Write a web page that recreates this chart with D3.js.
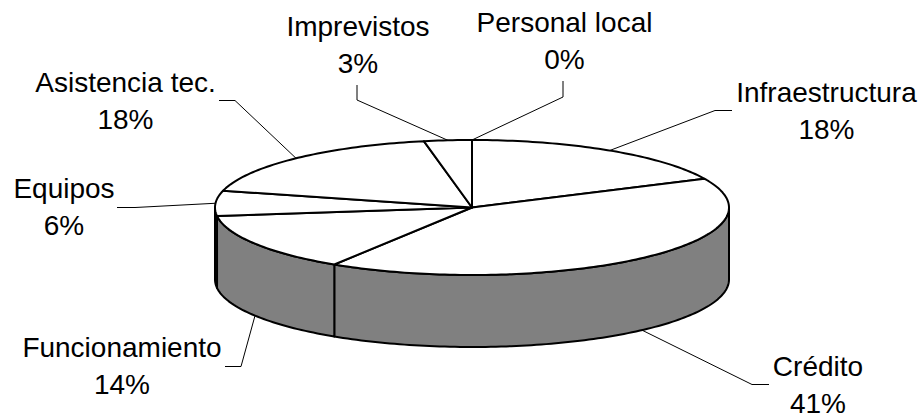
<!DOCTYPE html>
<html><head><meta charset="utf-8">
<script src="https://cdn.jsdelivr.net/npm/d3@7"></script>
<style>html,body{margin:0;padding:0;background:#fff}svg{display:block}</style>
</head><body><svg id="c" width="922" height="415"></svg>
<script>
const categories = ["Personal local","Infraestructura","Crédito","Funcionamiento","Equipos","Asistencia tec.","Imprevistos"];
const values = [0,18,41,14,6,18,3];
const percentLabels = ["0%","18%","41%","14%","6%","18%","3%"];

const layout = {cx:472,cy:207.5,rx:257,ry:67.5,depth:72,font:28,lh:36.5};
// label centre x, first-line baseline y, leader elbow points (same order as categories)
const labelPos = [
 {x:564.5,y:32,leader:[[563,97],[563,81]]},
 {x:826.5,y:102,leader:[[715,110.5],[732,110.5]]},
 {x:818,y:376,leader:[[752,384.5],[769,384.5]]},
 {x:122,y:357,leader:[[241,366.5],[225,366.5]]},
 {x:64,y:198,leader:[[135,207.5],[117,207.5]]},
 {x:125.5,y:92,leader:[[235,100.5],[219,100.5]]},
 {x:358,y:36,leader:[[357,100],[357,85]]}
];

const svg = d3.select("#c");
const arcs = d3.pie().sort(null).value(d=>d)(values);
const px = d3.scaleLinear().domain([-1,1]).range([layout.cx-layout.rx,layout.cx+layout.rx]);
const py = d3.scaleLinear().domain([-1,1]).range([layout.cy-layout.ry,layout.cy+layout.ry]);
const pt = (a,dz=0)=>[px(Math.sin(a)),py(-Math.cos(a))+dz];
const sample = (a0,a1,dz=0)=>{
  const n=Math.max(1,Math.ceil(Math.abs(a1-a0)/0.02));
  return d3.range(n+1).map(i=>pt(a0+(a1-a0)*i/n,dz));
};
const line = d3.line();
const PI=Math.PI;

// side wall
arcs.forEach(d=>{
  const a0=Math.max(d.startAngle,PI/2), a1=Math.min(d.endAngle,3*PI/2);
  if(a1<=a0) return;
  const pts=sample(a0,a1).concat(sample(a1,a0,layout.depth));
  svg.append("path").attr("d",line(pts)+"Z").attr("fill","#808080")
    .attr("stroke","#000").attr("stroke-width",2).attr("stroke-linejoin","round");
});
// top slices
arcs.forEach(d=>{
  if(d.endAngle===d.startAngle) return;
  const pts=[[px(0),py(0)]].concat(sample(d.startAngle,d.endAngle));
  svg.append("path").attr("d",line(pts)+"Z").attr("fill","#fff")
    .attr("stroke","#000").attr("stroke-width",2).attr("stroke-linejoin","round");
});
// leaders
const anchorDz = d => {
  const m=(d.startAngle+d.endAngle)/2;
  return (m>PI/2 && m<3*PI/2)?layout.depth:0;
};
arcs.forEach((d,i)=>{
  const m=(d.startAngle+d.endAngle)/2;
  const start=pt(m,anchorDz(d));
  svg.append("path").attr("d",line([start,...labelPos[i].leader])).attr("fill","none")
    .attr("stroke","#000").attr("stroke-width",1);
});
// labels
arcs.forEach((d,i)=>{
  const p=labelPos[i];
  const t=svg.append("text").attr("text-anchor","middle")
    .attr("font-family","'Liberation Sans',Arial,sans-serif").attr("font-size",layout.font).attr("fill","#000");
  t.append("tspan").attr("x",p.x).attr("y",p.y).text(categories[i]);
  t.append("tspan").attr("x",p.x).attr("y",p.y+layout.lh).text(percentLabels[i]);
});
</script></body></html>
